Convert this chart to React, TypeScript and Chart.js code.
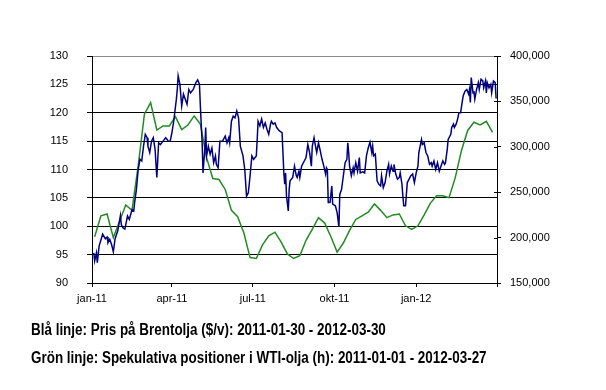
import React, { useEffect, useRef } from "react";
import { Chart, registerables } from "chart.js";

Chart.register(...registerables);

// x axis: days since 2011-01-01
const quarterTickDays = [0, 90, 181, 273, 365, 456];
const quarterTickLabels = ["jan-11", "apr-11", "jul-11", "okt-11", "jan-12", ""];

const leftTicks = { min: 90, max: 130, step: 5 };
const rightTicks = { min: 150000, max: 400000, step: 50000 };

// Blue: Brent price ($/barrel), [day, price]
const blueSeries: [number, number][] = [
  [2, 95.3], [3, 93.9], [5, 95.3], [6, 93.6], [8, 96.5], [12, 98.6], [15, 97.8], [17, 98.1], [18, 97.1], [20, 97.7],
  [22, 96.8], [24, 95.5], [26, 97.8], [29, 99.2], [32, 101.9], [33, 100.3], [35, 99.7], [37, 99.5], [40, 101.8], [42, 101.2],
  [45, 102.9], [47, 102.7], [48, 104.2], [50, 106.5], [52, 110.0], [54, 111.8], [56, 111.5], [58, 114.1], [60, 116.2], [62, 115.6],
  [63, 114.1], [65, 113.0], [67, 115.0], [69, 115.6], [71, 113.6], [73, 108.6], [75, 114.7], [77, 114.4], [80, 115.0], [83, 115.6],
  [86, 115.0], [88, 115.0], [90, 116.5], [92, 118.5], [95, 122.4], [96, 124.1], [97, 126.5], [99, 125.0], [101, 121.2], [103, 123.3],
  [105, 122.4], [107, 121.5], [109, 124.1], [111, 123.5], [114, 124.1], [117, 125.3], [119, 125.8], [121, 125.0], [122, 121.2], [124, 114.7],
  [125, 109.4], [127, 113.6], [128, 117.4], [129, 112.4], [131, 114.1], [133, 112.7], [135, 113.8], [137, 111.2], [139, 112.4], [140, 110.9],
  [142, 110.3], [144, 115.0], [147, 115.0], [150, 115.9], [152, 114.7], [154, 115.6], [155, 114.7], [157, 118.5], [159, 119.4], [161, 119.1],
  [163, 120.3], [165, 119.1], [167, 114.1], [170, 112.4], [172, 110.0], [174, 105.3], [176, 105.9], [178, 108.9], [180, 112.4], [182, 111.8],
  [185, 112.4], [186, 115.3], [187, 118.5], [189, 117.7], [191, 118.9], [193, 117.4], [195, 118.2], [197, 117.1], [199, 116.2], [201, 118.0],
  [202, 118.5], [204, 118.0], [206, 118.2], [208, 117.4], [211, 116.8], [214, 116.5], [216, 109.4], [217, 107.4], [218, 109.4], [219, 105.3],
  [221, 102.7], [222, 106.5], [223, 108.0], [226, 108.6], [228, 110.6], [230, 108.9], [231, 108.6], [233, 109.7], [234, 108.6], [236, 110.6],
  [239, 111.5], [241, 112.1], [243, 114.4], [245, 113.0], [247, 110.6], [248, 114.1], [250, 115.6], [252, 113.8], [253, 113.0], [255, 114.7],
  [257, 113.3], [259, 111.8], [261, 110.6], [263, 109.2], [264, 110.3], [265, 110.0], [266, 104.2], [268, 104.2], [270, 107.1], [271, 103.9],
  [274, 103.6], [276, 102.4], [278, 99.9], [279, 105.6], [281, 106.5], [283, 108.9], [285, 111.2], [287, 111.8], [288, 114.7], [289, 113.0],
  [290, 110.6], [292, 108.9], [294, 110.3], [295, 109.4], [297, 111.2], [299, 109.7], [301, 112.1], [302, 109.4], [305, 109.6], [307, 109.4],
  [309, 112.4], [311, 113.8], [313, 114.8], [315, 113.0], [316, 114.1], [317, 112.4], [319, 112.7], [321, 108.0], [323, 107.4], [325, 107.1],
  [326, 108.9], [328, 106.8], [330, 107.7], [332, 109.7], [334, 110.9], [335, 109.2], [337, 110.6], [339, 109.7], [340, 110.9], [342, 109.2],
  [344, 108.3], [346, 108.6], [347, 109.4], [349, 107.4], [350, 105.3], [351, 103.6], [353, 103.6], [355, 107.7], [357, 108.3], [359, 108.9],
  [361, 109.2], [363, 107.7], [365, 109.4], [367, 110.6], [368, 113.0], [371, 115.3], [372, 114.4], [374, 114.7], [376, 113.0], [378, 112.4],
  [380, 110.9], [382, 111.2], [383, 110.6], [385, 111.5], [387, 110.0], [389, 111.2], [391, 109.7], [393, 110.6], [395, 111.5], [397, 110.9],
  [398, 111.2], [400, 113.6], [401, 115.3], [404, 116.2], [405, 117.4], [407, 118.0], [408, 117.4], [410, 118.0], [412, 119.1], [413, 120.0],
  [415, 120.0], [417, 122.1], [418, 123.0], [420, 123.8], [422, 124.1], [424, 123.3], [425, 124.1], [426, 121.8], [427, 126.2], [429, 123.5],
  [430, 123.8], [431, 122.4], [433, 124.1], [435, 125.3], [436, 124.1], [438, 125.9], [440, 125.6], [441, 124.4], [443, 125.6], [444, 123.5],
  [445, 125.3], [447, 124.4], [449, 125.0], [450, 123.5], [452, 125.6], [454, 125.3], [455, 122.5],
];

// Green: speculative positions in WTI (weekly)
const greenDays = [
  3, 10, 17, 24, 31, 38, 45, 52, 59, 66, 73, 80, 87, 94, 101, 108, 115, 122, 129, 136, 143, 150, 157, 164, 171,
  178, 185, 192, 199, 206, 213, 220, 227, 234, 241, 248, 255, 262, 269, 276, 283, 290, 297, 304, 311, 318, 325, 332,
  339, 346, 353, 360, 367, 374, 381, 388, 395, 402, 409, 416, 423, 430, 437, 444, 451,
];
const greenValues = [
  201000, 224000, 226000, 200000, 218000, 236000, 230000, 279000, 336000, 348600, 318500, 323000, 323000, 333000, 319000,
  324000, 334000, 325000, 288000, 265000, 264000, 253000, 230000, 223000, 205000, 178000, 177000, 192000, 202000, 206000,
  195000, 182000, 177000, 180000, 197000, 209000, 222000, 216000, 201000, 184000, 194000, 208000, 220000, 224000, 228000,
  237000, 230000, 222000, 225000, 226000, 213000, 209000, 213000, 225000, 238000, 246000, 246000, 244000, 266000, 296000,
  318000, 327000, 324000, 328000, 316000,
];

const captionLines = [
  "Blå linje: Pris på Brentolja ($/v): 2011-01-30 - 2012-03-30",
  "Grön linje: Spekulativa positioner i WTI-olja (h): 2011-01-01 - 2012-03-27",
];

// draws the inner half of the right-axis tick marks so they cross the axis line
const crossTicks = {
  id: "crossTicks",
  afterDraw(chart: any) {
    const s = chart.scales.y1;
    if (!s) return;
    const ctx = chart.ctx;
    ctx.save();
    ctx.strokeStyle = "#000";
    ctx.lineWidth = 1;
    s.ticks.forEach((t: any) => {
      const y = Math.round(s.getPixelForValue(t.value)) + 0.5;
      ctx.beginPath();
      ctx.moveTo(s.left - 3, y);
      ctx.lineTo(s.left, y);
      ctx.stroke();
    });
    ctx.restore();
  },
};

export default function App() {
  const ref = useRef<HTMLCanvasElement | null>(null);

  useEffect(() => {
    if (!ref.current) return;
    const font = { family: "'Liberation Sans', Arial, sans-serif", size: 11 };
    const chart = new Chart(ref.current, {
      type: "line",
      data: {
        datasets: [
          {
            label: "Brent",
            data: blueSeries.map(([d, v]) => ({ x: d, y: v })),
            borderColor: "#000080",
            borderWidth: 1.5,
            pointRadius: 0,
            tension: 0,
            yAxisID: "y",
          },
          {
            label: "WTI",
            data: greenDays.map((d, i) => ({ x: d, y: greenValues[i] })),
            borderColor: "#228b22",
            borderWidth: 1.5,
            pointRadius: 0,
            tension: 0,
            yAxisID: "y1",
          },
        ],
      },
      options: {
        animation: false,
        responsive: false,
        layout: { padding: { top: 56, left: 0, right: 0, bottom: 0 } },
        plugins: { legend: { display: false }, tooltip: { enabled: false } },
        scales: {
          x: {
            type: "linear",
            min: quarterTickDays[0],
            max: quarterTickDays[quarterTickDays.length - 1],
            afterBuildTicks: (s: any) => {
              s.ticks = quarterTickDays.map((v) => ({ value: v }));
            },
            afterFit: (s: any) => {
              s.height = 107;
            },
            ticks: {
              autoSkip: false,
              maxRotation: 0,
              padding: 5,
              color: "#000",
              font,
              callback: (v: any) => {
                const i = quarterTickDays.indexOf(Number(v));
                return i >= 0 ? quarterTickLabels[i] : "";
              },
            },
            grid: { display: true, drawOnChartArea: false, drawTicks: true, tickLength: 4, tickColor: "#000" },
            border: { display: true, color: "#000", width: 1 },
          },
          y: {
            position: "left",
            min: leftTicks.min,
            max: leftTicks.max,
            afterFit: (s: any) => {
              s.width = 92;
            },
            ticks: { stepSize: leftTicks.step, padding: 19, color: "#000", font },
            grid: {
              color: (c: any) => (c.tick && c.tick.value === leftTicks.max ? "#8c8c8c" : "#000"),
              lineWidth: 1,
              tickLength: 5,
              tickColor: "#000",
            },
            border: { display: true, color: "#000", width: 1 },
          },
          y1: {
            position: "right",
            min: rightTicks.min,
            max: rightTicks.max,
            afterFit: (s: any) => {
              s.width = 109;
            },
            ticks: {
              stepSize: rightTicks.step,
              padding: 9,
              color: "#000",
              font,
              callback: (v: any) => Number(v).toLocaleString("en-US"),
            },
            grid: { display: true, drawOnChartArea: false, tickLength: 4, tickColor: "#000" },
            border: { display: true, color: "#000", width: 1 },
          },
        },
      },
      plugins: [crossTicks],
    } as any);
    return () => chart.destroy();
  }, []);

  return (
    <div style={{ position: "fixed", left: 0, top: 0, width: 606, height: 390, background: "#fff" }}>
      <canvas ref={ref} width={606} height={390} style={{ position: "absolute", left: 0, top: 0 }} />
      {captionLines.map((t, i) => (
        <div
          key={i}
          style={{
            position: "absolute",
            left: 31,
            top: 321.5 + i * 28,
            fontFamily: "'Liberation Sans', Arial, sans-serif",
            fontWeight: "bold",
            fontSize: 16,
            lineHeight: "16px",
            whiteSpace: "nowrap",
            color: "#000",
            transform: "scaleX(0.84)",
            transformOrigin: "left top",
          }}
        >
          {t}
        </div>
      ))}
    </div>
  );
}
